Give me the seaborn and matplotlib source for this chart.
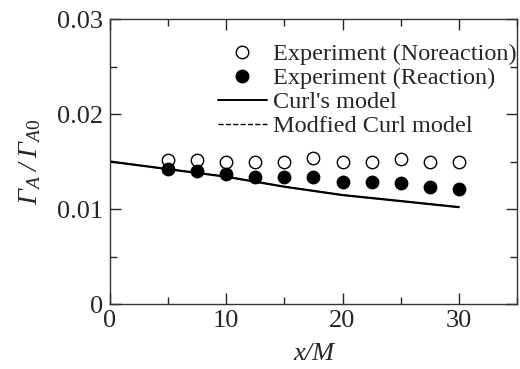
import numpy as np
import pandas as pd
import matplotlib
matplotlib.use("Agg")
import matplotlib.pyplot as plt
import seaborn as sns
from matplotlib.ticker import MultipleLocator
from matplotlib.lines import Line2D

# data
x_exp = [5, 7.5, 10, 12.5, 15, 17.5, 20, 22.5, 25, 27.5, 30]
noreaction = [0.0152, 0.0152, 0.0149, 0.01495, 0.0149, 0.01535, 0.0149, 0.0150, 0.01525, 0.01495, 0.0149]
reaction = [0.0142, 0.0140, 0.01365, 0.0134, 0.01335, 0.0134, 0.0128, 0.0128, 0.0127, 0.01235, 0.0121]
x_model = [0, 5, 10, 15, 20, 25, 30]
curl = [0.0150, 0.0142, 0.0134, 0.01235, 0.01147, 0.01084, 0.0102]
modified_curl = [0.0150, 0.0142, 0.0134, 0.01235, 0.01147, 0.01084, 0.0102]

sns.set_style("ticks")
plt.rcParams["font.family"] = ["Liberation Serif", "DejaVu Serif"]
# greek capitals come from the rm slot, so point it at the italic face
plt.rcParams["mathtext.fontset"] = "custom"
plt.rcParams["mathtext.rm"] = "Liberation Serif:italic"
plt.rcParams["mathtext.it"] = "Liberation Serif:italic"
plt.rcParams["mathtext.sf"] = "Liberation Serif"

exp = pd.DataFrame({"x": x_exp, "noreaction": noreaction, "reaction": reaction})
mod = pd.DataFrame({"x": x_model, "curl": curl, "mod": modified_curl})

fig = plt.figure(figsize=(5.2, 3.69), dpi=100)
ax = fig.add_axes([0.2115, 0.176, 0.7827, 0.7725])

sns.lineplot(data=mod, x="x", y="mod", ax=ax, color="black", lw=1.0, linestyle="--", zorder=1)
sns.lineplot(data=mod, x="x", y="curl", ax=ax, color="black", lw=1.6, zorder=2)
sns.scatterplot(data=exp, x="x", y="noreaction", ax=ax, marker="o", s=80,
                facecolor="white", edgecolor="black", linewidth=1.0, zorder=3)
sns.scatterplot(data=exp, x="x", y="reaction", ax=ax, marker="o", s=80,
                color="black", edgecolor="black", linewidth=1.0, zorder=3)

ax.set_xlim(0, 35)
ax.set_ylim(0, 0.03)
ax.xaxis.set_major_locator(MultipleLocator(10))
ax.xaxis.set_minor_locator(MultipleLocator(5))
ax.yaxis.set_major_locator(MultipleLocator(0.01))
ax.yaxis.set_minor_locator(MultipleLocator(0.005))
ax.set_yticks([0, 0.01, 0.02, 0.03])
ax.set_yticklabels(["0", "0.01", "0.02", "0.03"])
ax.tick_params(which="both", direction="in", top=True, right=True, labelsize=19, width=1.0)
ax.tick_params(axis="x", pad=4)
ax.tick_params(axis="y", pad=5)
ax.tick_params(which="major", length=8)
ax.tick_params(which="minor", length=5)
for s in ax.spines.values():
    s.set_linewidth(1.0)
    s.set_color("#333333")

ax.set_xlabel("x/M", fontsize=19, fontstyle="italic", labelpad=8)
ax.set_ylabel(r"$\Gamma_{A}\;/\;\Gamma_{A\mathsf{0}}$", fontsize=20, labelpad=10)

handles = [
    Line2D([], [], marker="o", ls="none", ms=9, mfc="white", mec="black", mew=1.0),
    Line2D([], [], marker="o", ls="none", ms=9, mfc="black", mec="black"),
    Line2D([], [], color="black", lw=1.4),
    Line2D([], [], color="black", lw=1.0, ls="--"),
]
labels = ["Experiment (Noreaction)", "Experiment (Reaction)", "Curl's model", "Modfied Curl model"]
ax.legend(handles, labels, loc="upper right", bbox_to_anchor=(1.04, 0.975), frameon=False,
          fontsize=17.5, handlelength=2.0, handletextpad=0.25, labelspacing=0.08, borderpad=0.2)

fig.savefig("out.png", dpi=100)
